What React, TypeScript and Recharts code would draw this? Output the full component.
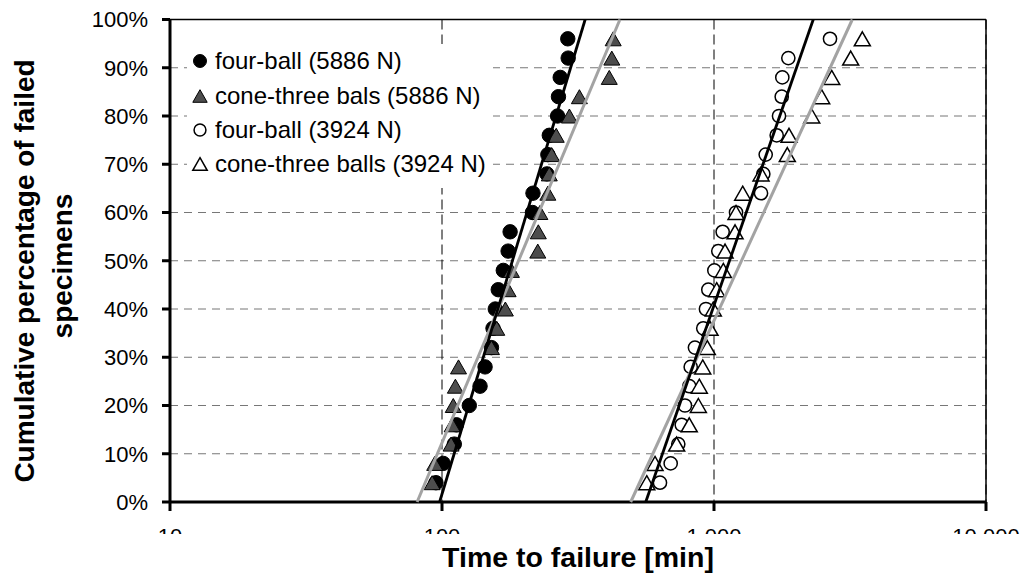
import React from "react";
import {
  ComposedChart,
  Scatter,
  XAxis,
  YAxis,
  CartesianGrid,
  ReferenceLine,
  Legend,
} from "recharts";

// cumulative percentage of failed specimens (median ranks)
const RANKS = [4, 8, 12, 16, 20, 24, 28, 32, 36, 40, 44, 48, 52, 56, 60, 64, 68, 72, 76, 80, 84, 88, 92, 96];

// time to failure [min]
const FOUR_BALL_5886 = [95, 101, 111, 113, 126, 138, 144, 152, 154, 157, 161, 168, 175, 178, 215, 216, 243, 245, 248, 266, 268, 272, 291, 290];
const CONE_5886 = [92, 94, 108, 109, 110, 112, 115, 152, 159, 171, 175, 180, 225, 226, 229, 245, 248, 253, 263, 294, 320, 412, 421, 426];
const FOUR_BALL_3924 = [633, 693, 739, 761, 782, 811, 821, 851, 913, 934, 953, 1003, 1037, 1076, 1205, 1489, 1518, 1549, 1700, 1734, 1774, 1783, 1876, 2670];
const CONE_3924 = [566, 607, 729, 811, 876, 883, 909, 945, 967, 994, 1023, 1082, 1098, 1195, 1205, 1275, 1489, 1860, 1887, 2287, 2488, 2709, 3181, 3510];

// fitted lines (end points at 0 % and 100 %)
const FIT_P = [0, 100];
const FIT_FOUR_5886 = [98, 336];
const FIT_CONE_5886 = [81, 451];
const FIT_FOUR_3924 = [561, 2317];
const FIT_CONE_3924 = [494, 3225];

const X_TICKS = [10, 100, 1000, 10000];
const Y_TICKS = [0, 10, 20, 30, 40, 50, 60, 70, 80, 90, 100];

const LEGEND_LABELS = [
  "four-ball (5886 N)",
  "cone-three bals (5886 N)",
  "four-ball (3924 N)",
  "cone-three balls (3924 N)",
];

const FONT = "'Liberation Sans', Arial, sans-serif";
const TRI_FILL = "#4d4d4d";
const GREY_LINE = "#a3a3a3";

const zip = (t: number[], p: number[]) => t.map((v, i) => ({ t: v, p: p[i] }));

type Kind = "dot" | "tri" | "ring" | "openTri";
const KINDS: Kind[] = ["dot", "tri", "ring", "openTri"];

function Marker({ cx, cy, kind, s = 1 }: { cx: number; cy: number; kind: Kind; s?: number }) {
  if (kind === "dot") return <circle cx={cx} cy={cy} r={7.2 * s} fill="#000" stroke="#000" strokeWidth={1} />;
  if (kind === "ring") return <circle cx={cx} cy={cy} r={6.6 * s} fill="#fff" stroke="#000" strokeWidth={1.5} />;
  const w = 8 * s;
  const h = 7 * s;
  const pts = `${cx},${cy - h} ${cx + w},${cy + h} ${cx - w},${cy + h}`;
  return (
    <polygon
      points={pts}
      fill={kind === "tri" ? TRI_FILL : "#fff"}
      stroke="#000"
      strokeWidth={kind === "tri" ? 1 : 1.5}
      strokeLinejoin="miter"
    />
  );
}

const shapeOf = (kind: Kind) => (p: any) => <Marker cx={p.cx} cy={p.cy} kind={kind} />;
const noShape = () => <g />;

const fmtX = (v: number) => String(v).replace(/\B(?=(\d{3})+(?!\d))/g, " ");

// the original picture shows only the top of the x tick labels
function XTick({ x, y, payload }: any) {
  const clipBottom = 534;
  return (
    <svg x={x - 60} y={y} width={120} height={Math.max(0, clipBottom - y)} overflow="hidden">
      <text x={60} y={544 - y} textAnchor="middle" fontFamily={FONT} fontSize={22} fill="#000">
        {fmtX(payload.value)}
      </text>
    </svg>
  );
}

function YTitle() {
  return (
    <g fontFamily={FONT} fontWeight="bold" fontSize={28} fill="#000" textAnchor="middle">
      <text transform="translate(34, 271) rotate(-90)">Cumulative percentage of failed</text>
      <text transform="translate(72, 266) rotate(-90)">specimens</text>
    </g>
  );
}

function XTitle() {
  return (
    <text x={578} y={567} textAnchor="middle" fontFamily={FONT} fontWeight="bold" fontSize={28.5} fill="#000">
      Time to failure [min]
    </text>
  );
}

function LegendBox() {
  return (
    <div style={{ background: "#fff", paddingBottom: 6, fontFamily: FONT, fontSize: 24, color: "#000" }}>
      {LEGEND_LABELS.map((label, i) => (
        <div key={label} style={{ height: 34.4, display: "flex", alignItems: "center", whiteSpace: "nowrap" }}>
          <svg width={18} height={18} style={{ marginLeft: 4, marginRight: 6, flex: "none" }}>
            <Marker cx={9} cy={9} kind={KINDS[i]} s={0.9} />
          </svg>
          <span>{label}</span>
        </div>
      ))}
    </div>
  );
}

export default function App() {
  return (
    <div style={{ position: "absolute", left: 0, top: 0, width: 1026, height: 574, background: "#fff" }}>
      <ComposedChart width={1026} height={574} margin={{ top: 19.5, right: 40, bottom: 0, left: 0 }}>
        <CartesianGrid vertical={false} stroke="#777" strokeDasharray="8 6" />
        <CartesianGrid horizontal={false} stroke="#000" strokeDasharray="10 5" />
        <XAxis
          dataKey="t"
          type="number"
          scale="log"
          domain={[10, 10000]}
          ticks={X_TICKS}
          allowDataOverflow
          height={72}
          tickSize={9}
          axisLine={{ stroke: "#000", strokeWidth: 3 }}
          tickLine={{ stroke: "#000", strokeWidth: 3 }}
          tick={<XTick />}
          label={<XTitle />}
        />
        <YAxis
          dataKey="p"
          type="number"
          domain={[0, 100]}
          ticks={Y_TICKS}
          width={170}
          tickSize={8}
          tickMargin={14}
          tickFormatter={(v) => `${v}%`}
          axisLine={{ stroke: "#000", strokeWidth: 3 }}
          tickLine={{ stroke: "#000", strokeWidth: 3 }}
          tick={{ fontFamily: FONT, fontSize: 22, fill: "#000" }}
          label={<YTitle />}
        />
        <ReferenceLine y={100} stroke="#000" strokeWidth={1.5} />
        <ReferenceLine x={10000} stroke="#000" strokeWidth={1.5} />

        <Scatter name={LEGEND_LABELS[0]} data={zip(FOUR_BALL_5886, RANKS)} shape={shapeOf("dot")} isAnimationActive={false} />
        <Scatter name={LEGEND_LABELS[1]} data={zip(CONE_5886, RANKS)} shape={shapeOf("tri")} isAnimationActive={false} />
        <Scatter name={LEGEND_LABELS[2]} data={zip(FOUR_BALL_3924, RANKS)} shape={shapeOf("ring")} isAnimationActive={false} />
        <Scatter name={LEGEND_LABELS[3]} data={zip(CONE_3924, RANKS)} shape={shapeOf("openTri")} isAnimationActive={false} />

        <Scatter data={zip(FIT_CONE_5886, FIT_P)} line={{ stroke: GREY_LINE, strokeWidth: 3 }} shape={noShape} legendType="none" isAnimationActive={false} />
        <Scatter data={zip(FIT_FOUR_5886, FIT_P)} line={{ stroke: "#000", strokeWidth: 2.8 }} shape={noShape} legendType="none" isAnimationActive={false} />
        <Scatter data={zip(FIT_CONE_3924, FIT_P)} line={{ stroke: GREY_LINE, strokeWidth: 3 }} shape={noShape} legendType="none" isAnimationActive={false} />
        <Scatter data={zip(FIT_FOUR_3924, FIT_P)} line={{ stroke: "#000", strokeWidth: 2.8 }} shape={noShape} legendType="none" isAnimationActive={false} />

        <Legend
          layout="vertical"
          align="center"
          verticalAlign="middle"
          content={<LegendBox />}
          wrapperStyle={{ left: 187, top: 44, width: 306, height: "auto", background: "#fff" }}
        />
      </ComposedChart>
    </div>
  );
}
